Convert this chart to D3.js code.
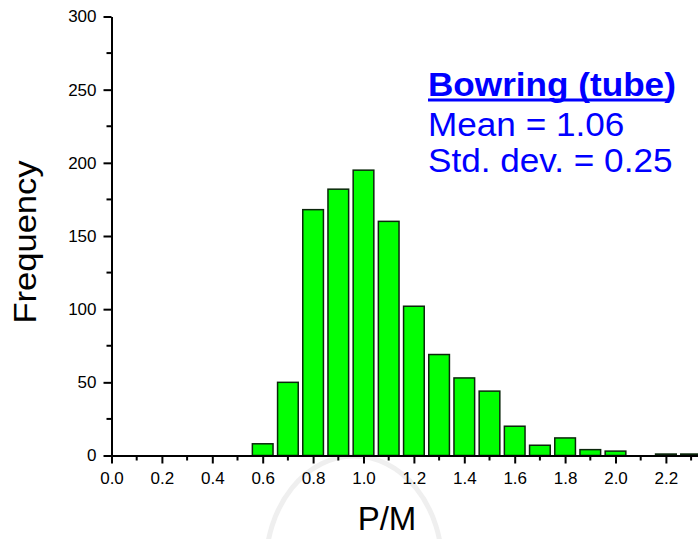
<!DOCTYPE html>
<html>
<head>
<meta charset="utf-8">
<script src="https://cdn.jsdelivr.net/npm/d3@7"></script>
<style>
  body { margin: 0; background: #fff; }
  svg { display: block; font-family: "Liberation Sans", Arial, sans-serif; }
</style>
</head>
<body>
<svg id="chart" width="698" height="539"></svg>
<script>
// histogram of P/M, bins of 0.1 centred on these values
var binCenters = [0.6, 0.7, 0.8, 0.9, 1.0, 1.1, 1.2, 1.3, 1.4, 1.5, 1.6, 1.7, 1.8, 1.9, 2.0, 2.1, 2.2, 2.3];
var counts = [8, 50, 168, 182, 195, 160, 102, 69, 53, 44, 20, 7, 12, 4, 3, 0, 1, 1];
var xMajor = [0.0, 0.2, 0.4, 0.6, 0.8, 1.0, 1.2, 1.4, 1.6, 1.8, 2.0, 2.2];
var xMinor = [0.1, 0.3, 0.5, 0.7, 0.9, 1.1, 1.3, 1.5, 1.7, 1.9, 2.1, 2.3];
var yMajor = [0, 50, 100, 150, 200, 250, 300];
var yMinor = [25, 75, 125, 175, 225, 275];
var legendLines = ['Bowring (tube)', 'Mean = 1.06', 'Std. dev. = 0.25'];

var svg = d3.select('#chart');

var x = d3.scaleLinear().domain([0, 2.4]).range([111.5, 716.3]);
var y = d3.scaleLinear().domain([0, 300]).range([455.5, 16.5]);

// faint watermark arch behind the plot
svg.append('ellipse')
    .attr('cx', 354).attr('cy', 566)
    .attr('rx', 88).attr('ry', 110)
    .attr('fill', 'none')
    .attr('stroke', '#efefef')
    .attr('stroke-width', 5);

// bars
var halfW = 0.041;
svg.append('g')
    .selectAll('rect')
    .data(binCenters)
    .enter()
    .append('rect')
    .attr('x', function(d) { return x(d - halfW); })
    .attr('width', function(d) { return x(d + halfW) - x(d - halfW); })
    .attr('y', function(d, i) { return y(counts[i]); })
    .attr('height', function(d, i) { return y(0) - y(counts[i]); })
    .attr('fill', '#00ff00')
    .attr('stroke', '#0b260b')
    .attr('stroke-width', 1.5);

// x axis
var xAxis = svg.append('g')
    .attr('transform', 'translate(0,' + y(0) + ')')
    .call(d3.axisBottom(x).tickValues(xMajor).tickSize(8).tickSizeOuter(0)
        .tickFormat(d3.format('.1f')));
xAxis.select('.domain').attr('stroke-width', 2);
xAxis.selectAll('.tick line').attr('stroke-width', 2);
xAxis.selectAll('.tick text')
    .attr('y', 16)
    .attr('dy', '0.71em')
    .attr('font-size', 17)
    .attr('font-family', '"Liberation Sans", Arial, sans-serif')
    .attr('fill', '#000');
xAxis.selectAll('.minor')
    .data(xMinor)
    .enter()
    .append('line')
    .attr('class', 'minor')
    .attr('x1', function(d) { return x(d); })
    .attr('x2', function(d) { return x(d); })
    .attr('y1', 0).attr('y2', 5)
    .attr('stroke', '#000')
    .attr('stroke-width', 2);

// y axis
var yAxis = svg.append('g')
    .attr('transform', 'translate(' + x(0) + ',0)')
    .call(d3.axisLeft(y).tickValues(yMajor).tickSize(8).tickSizeOuter(0));
yAxis.select('.domain').attr('stroke-width', 2);
yAxis.selectAll('.tick line').attr('stroke-width', 2);
yAxis.selectAll('.tick text')
    .attr('x', -15)
    .attr('font-size', 17)
    .attr('font-family', '"Liberation Sans", Arial, sans-serif')
    .attr('fill', '#000');
yAxis.selectAll('.minor')
    .data(yMinor)
    .enter()
    .append('line')
    .attr('class', 'minor')
    .attr('y1', function(d) { return y(d); })
    .attr('y2', function(d) { return y(d); })
    .attr('x1', 0).attr('x2', -5)
    .attr('stroke', '#000')
    .attr('stroke-width', 2);

// axis titles
svg.append('text')
    .attr('transform', 'translate(36,242) rotate(-90) scale(1.08,1)')
    .attr('text-anchor', 'middle')
    .attr('font-size', 32)
    .text('Frequency');
svg.append('text')
    .attr('x', 387)
    .attr('y', 530)
    .attr('text-anchor', 'middle')
    .attr('font-size', 33)
    .text('P/M');

// legend block (text a bit wider than Arial, so stretch it)
var legend = svg.append('g')
    .attr('fill', '#0000ff')
    .attr('transform', 'translate(428,0) scale(1.065,1)');
var baselines = [96, 136, 172];
legend.selectAll('text')
    .data(legendLines)
    .enter()
    .append('text')
    .attr('x', 0)
    .attr('y', function(d, i) { return baselines[i]; })
    .attr('font-size', 33)
    .attr('font-weight', function(d, i) { return i == 0 ? 'bold' : 'normal'; })
    .text(function(d) { return d; });
svg.append('line')
    .attr('x1', 428).attr('x2', 669)
    .attr('y1', 100).attr('y2', 100)
    .attr('stroke', '#0000ff')
    .attr('stroke-width', 3);
</script>
</body>
</html>
